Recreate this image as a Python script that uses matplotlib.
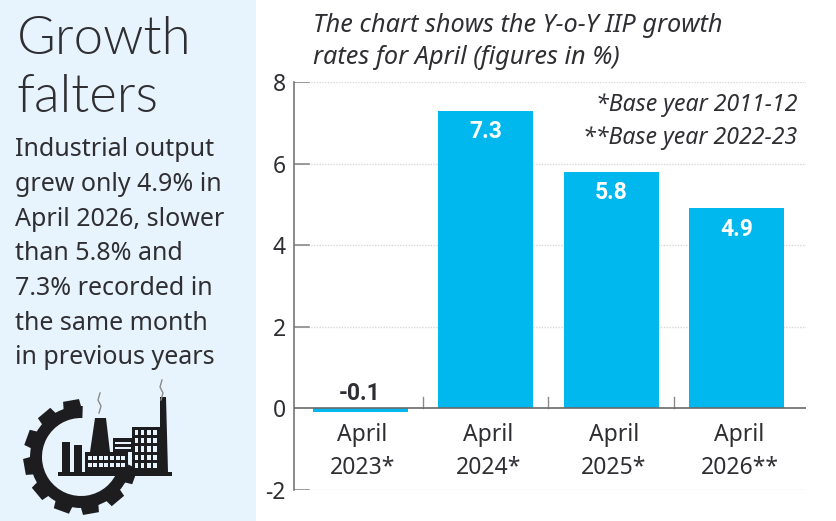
import numpy as np
import matplotlib
matplotlib.use("Agg")
import matplotlib.pyplot as plt
from matplotlib.patches import Rectangle, Wedge, Polygon

W, H = 836, 521
categories = ["April\n2023*", "April\n2024*", "April\n2025*", "April\n2026**"]
values = [-0.1, 7.3, 5.8, 4.9]
value_labels = ["-0.1", "7.3", "5.8", "4.9"]
yticks = [-2, 0, 2, 4, 6, 8]
headline = ["Growth", "falters"]
body = ["Industrial output", "grew only 4.9% in", "April 2026, slower", "than 5.8% and",
        "7.3% recorded in", "the same month", "in previous years"]
subtitle = ["The chart shows the Y-o-Y IIP growth", "rates for April (figures in %)"]
notes = ["*Base year 2011-12", "**Base year 2022-23"]

FONT = "Noto Sans"
DARK = "#2f2f33"
BAR = "#00b7ee"
PANEL = "#e8f4fd"
ICON = "#1d1d20"

fig = plt.figure(figsize=(W / 100, H / 100), dpi=100, facecolor="white")
plt.rcParams["font.family"] = FONT

bg = fig.add_axes([0, 0, 1, 1])
bg.set_xlim(0, W); bg.set_ylim(H, 0); bg.axis("off")
bg.add_patch(Rectangle((0, 0), 256, H, fc=PANEL, ec="none"))

for t, y in zip(headline, [40, 98]):
    bg.text(17, y, t, fontsize=38, family="Lato", fontweight=300, color=DARK, va="center", ha="left")
for i, t in enumerate(body):
    bg.text(15, 150 + i * 34.6, t, fontsize=18, color=DARK, va="center", ha="left")

# gear icon (y axis is inverted here, so wedge angles run clockwise on screen)
cx, cy = 81, 457
bg.add_patch(Wedge((cx, cy), 51, 18, 272, width=12, fc=ICON, ec="none"))
for a in np.arange(100, 345, 30):
    bg.add_patch(Polygon([(cx + r * np.cos(np.radians(a + d)), cy - r * np.sin(np.radians(a + d)))
                          for r, d in [(48, -11), (58, -8), (58, 8), (48, 11)]], fc=ICON, ec="none"))
# factory
bg.add_patch(Rectangle((56, 466), 60, 10, fc=PANEL, ec="none"))
for x, y, w, h in [(58, 472, 114, 3.5), (62, 442, 8, 30), (74, 445, 8, 27), (85, 452, 43, 20),
                   (113, 438, 20, 14), (132, 427, 29, 45)]:
    bg.add_patch(Rectangle((x, y), w, h, fc=ICON, ec="none"))
bg.add_patch(Polygon([(90, 452), (95, 418), (106, 418), (110, 452)], fc=ICON, ec="none"))
bg.add_patch(Polygon([(160, 472), (160, 397), (166, 397), (168, 472)], fc=ICON, ec="none"))
for col in range(4):
    for row in range(5):
        bg.add_patch(Rectangle((134.5 + col * 6.3, 429.5 + row * 8.4), 3.6, 5.2, fc=PANEL, ec="none"))
for col in range(7):
    bg.add_patch(Rectangle((87.5 + col * 5.6, 456), 4, 4, fc=PANEL, ec="none"))
    bg.add_patch(Rectangle((87.5 + col * 5.6, 463), 4, 4, fc=PANEL, ec="none"))
bg.add_patch(Rectangle((115, 442), 16, 2, fc=PANEL, ec="none"))
bg.add_patch(Rectangle((115, 447), 16, 2, fc=PANEL, ec="none"))
for sx, sy in [(99, 393), (161, 380)]:
    bg.plot([sx, sx + 2, sx - 1, sx + 1], [sy + 20, sy + 13, sy + 7, sy], color="#8a8a8a", lw=1)

for i, t in enumerate(subtitle):
    bg.text(313, 26 + i * 32, t, fontsize=18.2, style="italic", color=DARK, va="center", ha="left")
for i, t in enumerate(notes):
    bg.text(797, 105 + i * 33, t, fontsize=16.6, style="italic", color=DARK, va="center", ha="right")

L, R, T, B = 294, 806, 82, 490
ax = fig.add_axes([L / W, 1 - B / H, (R - L) / W, (B - T) / H])
ax.patch.set_alpha(0)
ax.set_xlim(-0.526, 3.55)
ax.set_ylim(-2, 8)
x = np.arange(len(values))
ax.bar(x, values, width=0.757, color=BAR, zorder=3)

for s in ["top", "right", "bottom"]:
    ax.spines[s].set_visible(False)
ax.spines["left"].set_color("#77777a")
ax.spines["left"].set_linewidth(1.2)

ax.set_yticks(yticks)
ax.set_yticklabels([str(v) for v in yticks], fontsize=16.5, color=DARK)
ax.tick_params(axis="y", length=0, pad=6)
ax.set_xticks([])
for v in yticks:
    if v == 0:
        continue
    ax.axhline(v, color="#d8d8d8", lw=1, ls=(0, (1, 1)), zorder=1)
    ax.plot([0, 0.03], [v, v], transform=ax.get_yaxis_transform(), color="#8a8a8a", lw=1.2, zorder=2)
ax.axhline(0, color="#6a6a6a", lw=1.2, zorder=4)
for m in x[:-1] + 0.5:
    ax.plot([m, m], [0, 0.28], color="#8a8a8a", lw=1, zorder=2)

for xi, v, lab in zip(x, values, value_labels):
    if v < 0:
        ax.text(xi, 0.36, lab, ha="center", va="center", fontsize=16.5, family="Roboto", fontweight=700, color=DARK)
    else:
        ax.text(xi, v - 0.52, lab, ha="center", va="center", fontsize=16.5, family="Roboto", fontweight=700, color="white", zorder=5)
for xi, c in zip(x, categories):
    first, second = c.split("\n")
    ax.text(xi + 0.02, -0.66, first, ha="center", va="center", fontsize=16.5, color=DARK)
    ax.text(xi + 0.02, -1.45, second, ha="center", va="center", fontsize=16.5, color=DARK)

fig.savefig("out.png", dpi=100)
